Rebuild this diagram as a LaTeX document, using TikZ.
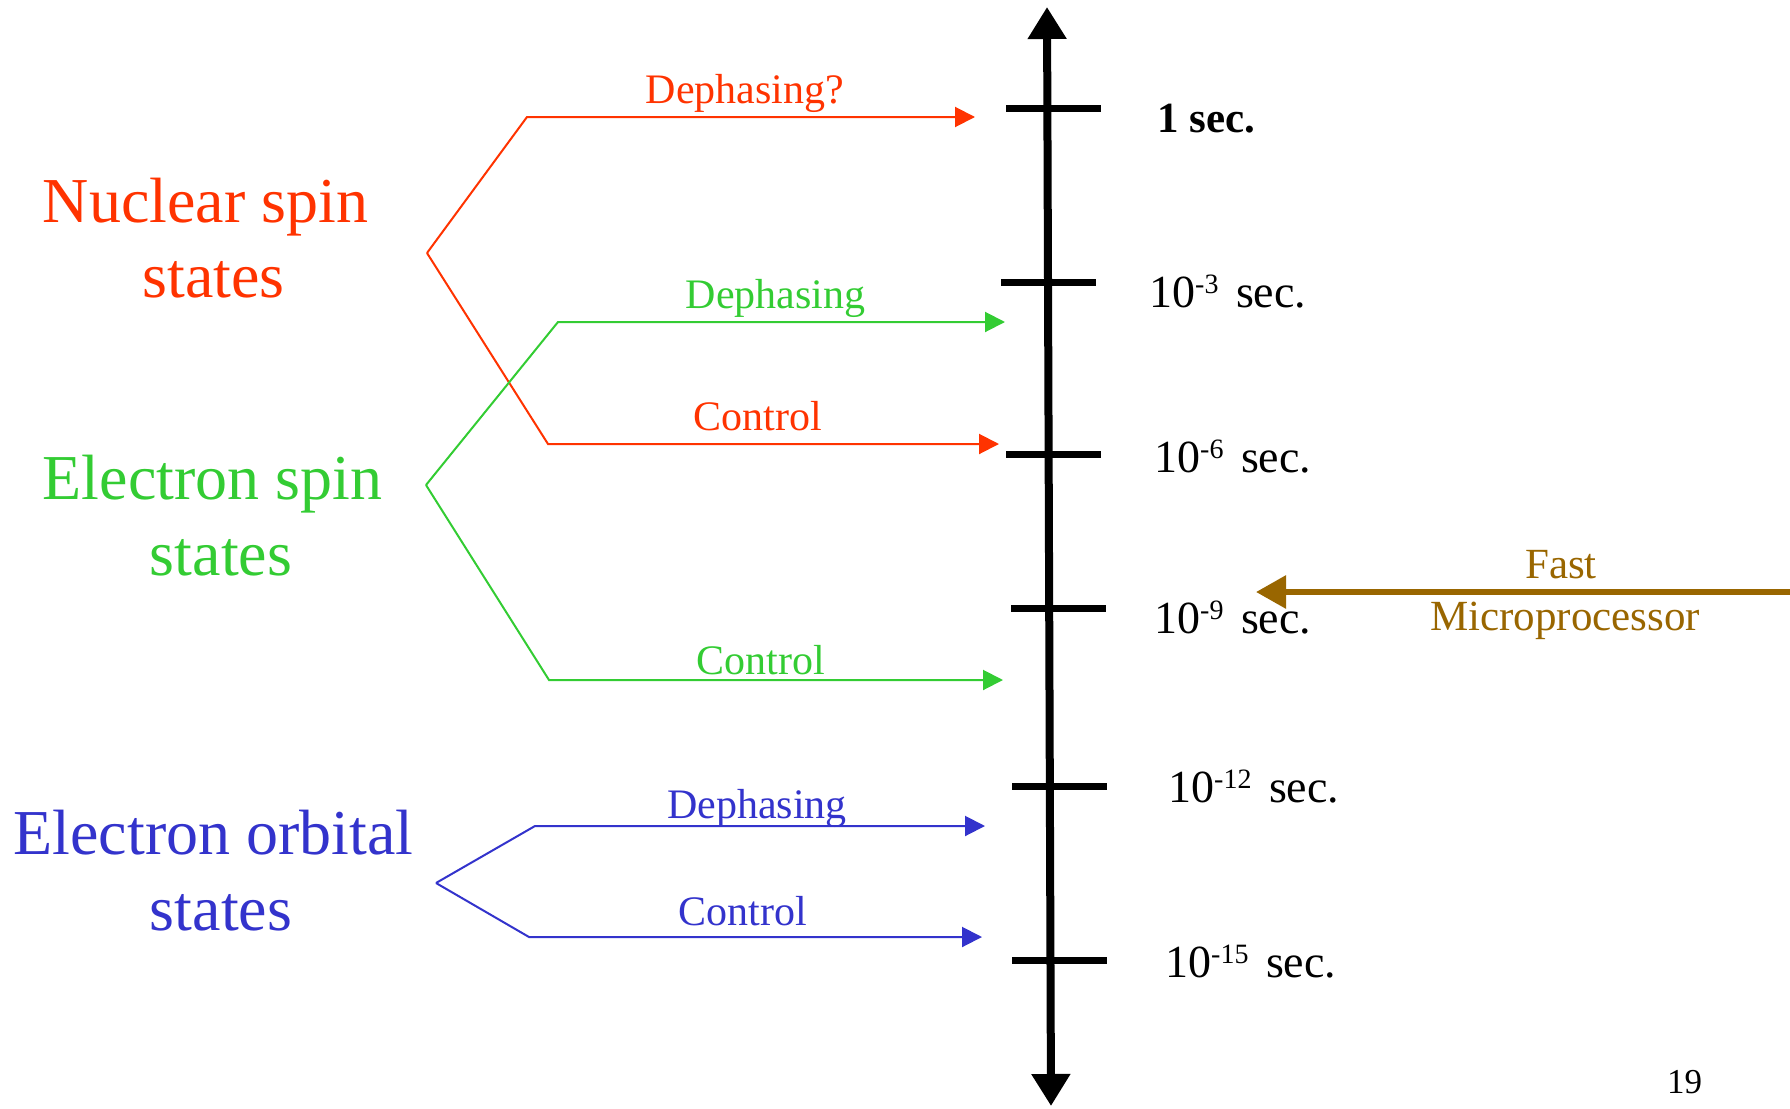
\documentclass[tikz,border=0pt]{standalone}
\usepackage{fontspec}
\setmainfont{Liberation Serif}
\usetikzlibrary{arrows.meta}
\definecolor{nucred}{HTML}{FF3300}
\definecolor{espgreen}{HTML}{33CC33}
\definecolor{orbblue}{HTML}{3333CC}
\definecolor{cpubrown}{HTML}{996600}
\newcommand{\fsz}[1]{\fontsize{#1}{#1}\selectfont}
\newcommand{\tpow}[1]{10\raisebox{13.5pt}{\fsz{28}-#1}\hspace{0.38em}sec.}
\tikzset{
  lbl/.style={inner sep=0pt, outer sep=0pt, anchor=base},
  statelbl/.style={lbl, font=\fsz{64}},
  armlbl/.style={lbl, font=\fsz{42}},
  timelbl/.style={inner sep=0pt, anchor=base west, font=\fsz{46}},
  tickline/.style={line width=7pt},
  axisline/.style={line width=8pt, {Triangle[length=32pt,width=37pt]}-{Triangle[length=32pt,width=37pt]}},
  arm/.style={line width=2pt, -{Triangle[length=20pt,width=20pt]}},
}
\begin{document}
\begin{tikzpicture}[x=1pt,y=-1pt]
\useasboundingbox (0,0) rectangle (1790,1108);

% time axis
\coordinate (axtop) at (1047,7);
\coordinate (axbot) at (1051,1106);
\draw[axisline] (axbot) -- (axtop);

% ticks
\draw[tickline] (1006,108) -- (1101,108);
\draw[tickline] (1001,282) -- (1096,282);
\draw[tickline] (1006,454) -- (1101,454);
\draw[tickline] (1011,608) -- (1106,608);
\draw[tickline] (1012,786) -- (1107,786);
\draw[tickline] (1012,960) -- (1107,960);

% time labels
\node[timelbl, font=\fsz{43}\bfseries] (t0) at (1157,132) {1 sec.};
\node[timelbl] (t3) at (1149,307) {\tpow{3}};
\node[timelbl] (t6) at (1154,472) {\tpow{6}};
\node[timelbl] (t9) at (1154,633) {\tpow{9}};
\node[timelbl] (t12) at (1168,802) {\tpow{12}};
\node[timelbl] (t15) at (1165,977) {\tpow{15}};

% state families
\node[statelbl, text=nucred] (nucA) at (205.5,222) {Nuclear spin};
\node[statelbl, text=nucred] (nucB) at (213.5,297) {states};
\node[statelbl, text=espgreen] (espA) at (212.5,499) {Electron spin};
\node[statelbl, text=espgreen] (espB) at (221,575) {states};
\node[statelbl, text=orbblue] (orbA) at (213.5,854) {Electron orbital};
\node[statelbl, text=orbblue] (orbB) at (221,930) {states};

% nuclear spin branches
\coordinate (nucV) at (427,253);
\coordinate (nucU) at (527,117);
\coordinate (nucUe) at (975,117);
\coordinate (nucL) at (548,444);
\coordinate (nucLe) at (999,444);
\draw[arm, nucred] (nucV) -- (nucU) -- (nucUe);
\draw[arm, nucred] (nucV) -- (nucL) -- (nucLe);
\node[armlbl, text=nucred] (nucD) at (745,103) {Dephasing?};
\node[armlbl, text=nucred] (nucC) at (757.5,430) {Control};

% electron spin branches
\coordinate (espV) at (426,485);
\coordinate (espU) at (558,322);
\coordinate (espUe) at (1005,322);
\coordinate (espL) at (549,680);
\coordinate (espLe) at (1003,680);
\draw[arm, espgreen] (espV) -- (espU) -- (espUe);
\draw[arm, espgreen] (espV) -- (espL) -- (espLe);
\node[armlbl, text=espgreen] (espD) at (775.5,308) {Dephasing};
\node[armlbl, text=espgreen] (espC) at (761,674) {Control};

% electron orbital branches
\coordinate (orbV) at (436,883);
\coordinate (orbU) at (535,826);
\coordinate (orbUe) at (985,826);
\coordinate (orbL) at (529,937);
\coordinate (orbLe) at (982,937);
\draw[arm, orbblue] (orbV) -- (orbU) -- (orbUe);
\draw[arm, orbblue] (orbV) -- (orbL) -- (orbLe);
\node[armlbl, text=orbblue] (orbD) at (757,818) {Dephasing};
\node[armlbl, text=orbblue] (orbC) at (742.5,925) {Control};

% fast microprocessor
\coordinate (cpuR) at (1790,592);
\coordinate (cpuT) at (1256,592);
\draw[line width=6pt, cpubrown, -{Triangle[length=30pt,width=32pt]}] (cpuR) -- (cpuT);
\node[armlbl, font=\fsz{43}, text=cpubrown] (cpuA) at (1561,578) {Fast};
\node[armlbl, font=\fsz{43}, text=cpubrown] (cpuB) at (1565,630) {Microprocessor};

% page number
\node[lbl, anchor=base west, font=\fsz{35}] (pg) at (1667,1093) {19};
\end{tikzpicture}
\end{document}
